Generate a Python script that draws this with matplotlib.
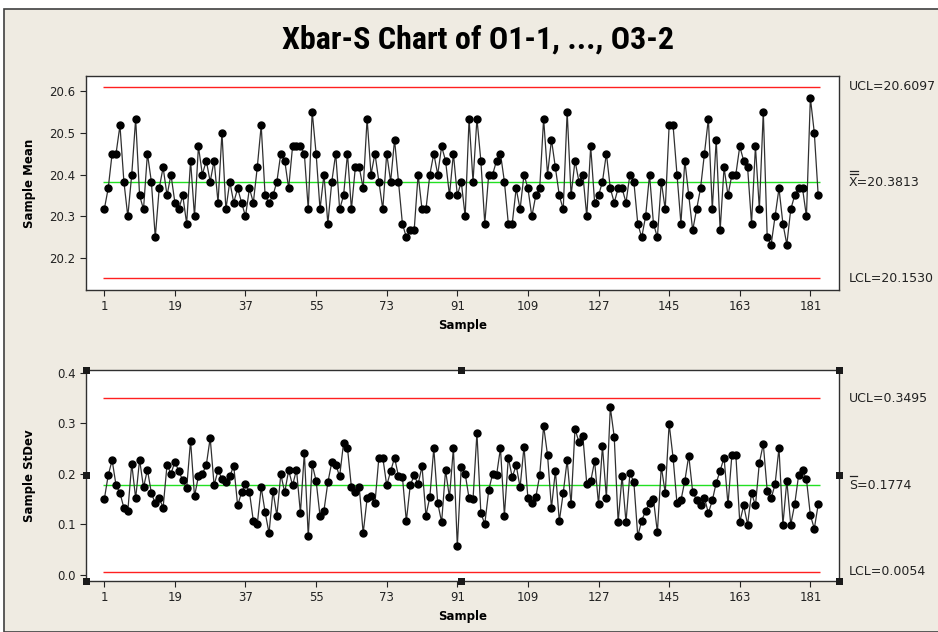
import matplotlib
matplotlib.use("Agg")
import matplotlib.pyplot as plt
from matplotlib.patches import Rectangle
from matplotlib.lines import Line2D
import numpy as np

plt.rcParams['font.family'] = ['DejaVu Sans']

title = "Xbar-S Chart of O1-1, ..., O3-2"
xtick_vals = [1, 19, 37, 55, 73, 91, 109, 127, 145, 163, 181]
mean_ticks = [20.2, 20.3, 20.4, 20.5, 20.6]
sd_ticks = [0.0, 0.1, 0.2, 0.3, 0.4]

xbar_ucl, xbar_cl, xbar_lcl = 20.6097, 20.3813, 20.1530
s_ucl, s_cl, s_lcl = 0.3495, 0.1774, 0.0054

xbar = [20.317, 20.367, 20.45, 20.45, 20.517, 20.383, 20.30, 20.40, 20.533, 20.35,
        20.317, 20.45, 20.383, 20.25, 20.367, 20.417, 20.35, 20.40, 20.333, 20.317,
        20.35, 20.283, 20.433, 20.30, 20.467, 20.40, 20.433, 20.383, 20.433, 20.333,
        20.50, 20.317, 20.383, 20.333, 20.367, 20.333, 20.30, 20.367, 20.333, 20.417,
        20.517, 20.35, 20.333, 20.35, 20.383, 20.45, 20.433, 20.367, 20.467, 20.467,
        20.467, 20.45, 20.317, 20.55, 20.45, 20.317, 20.40, 20.283, 20.383, 20.45,
        20.317, 20.35, 20.45, 20.317, 20.417, 20.417, 20.367, 20.533, 20.40, 20.45,
        20.383, 20.317, 20.45, 20.383, 20.483, 20.383, 20.283, 20.25, 20.267, 20.267,
        20.40, 20.317, 20.317, 20.40, 20.45, 20.40, 20.467, 20.433, 20.35, 20.45,
        20.35, 20.383, 20.30, 20.533, 20.383, 20.533, 20.433, 20.283, 20.40, 20.40,
        20.433, 20.45, 20.383, 20.283, 20.283, 20.367, 20.317, 20.40, 20.367, 20.30,
        20.35, 20.367, 20.533, 20.40, 20.483, 20.417, 20.35, 20.317, 20.55, 20.35,
        20.433, 20.383, 20.40, 20.30, 20.467, 20.333, 20.35, 20.383, 20.45, 20.367,
        20.333, 20.367, 20.367, 20.333, 20.40, 20.383, 20.283, 20.25, 20.30, 20.40,
        20.283, 20.25, 20.383, 20.317, 20.517, 20.517, 20.40, 20.283, 20.433, 20.35,
        20.267, 20.317, 20.367, 20.45, 20.533, 20.317, 20.483, 20.267, 20.417, 20.35,
        20.40, 20.40, 20.467, 20.433, 20.417, 20.283, 20.467, 20.317, 20.55, 20.25,
        20.233, 20.30, 20.367, 20.283, 20.233, 20.317, 20.35, 20.367, 20.367, 20.30,
        20.583, 20.50, 20.35]

sdev = [0.149, 0.197, 0.227, 0.177, 0.162, 0.132, 0.126, 0.220, 0.151, 0.228,
        0.173, 0.208, 0.162, 0.141, 0.151, 0.133, 0.218, 0.200, 0.224, 0.205,
        0.187, 0.172, 0.266, 0.155, 0.195, 0.200, 0.217, 0.271, 0.177, 0.207,
        0.190, 0.184, 0.195, 0.216, 0.137, 0.163, 0.179, 0.164, 0.106, 0.100,
        0.173, 0.124, 0.082, 0.166, 0.117, 0.199, 0.163, 0.207, 0.177, 0.208,
        0.122, 0.242, 0.076, 0.219, 0.186, 0.116, 0.127, 0.183, 0.223, 0.218,
        0.195, 0.261, 0.251, 0.173, 0.163, 0.173, 0.082, 0.151, 0.155, 0.141,
        0.232, 0.232, 0.177, 0.205, 0.232, 0.195, 0.194, 0.106, 0.177, 0.197,
        0.179, 0.215, 0.117, 0.154, 0.251, 0.142, 0.104, 0.207, 0.153, 0.251,
        0.056, 0.214, 0.200, 0.151, 0.149, 0.281, 0.122, 0.100, 0.167, 0.200,
        0.197, 0.251, 0.117, 0.232, 0.193, 0.217, 0.173, 0.254, 0.151, 0.142,
        0.153, 0.197, 0.295, 0.237, 0.132, 0.206, 0.106, 0.162, 0.227, 0.139,
        0.289, 0.263, 0.275, 0.179, 0.185, 0.225, 0.139, 0.255, 0.152, 0.332,
        0.273, 0.104, 0.196, 0.104, 0.201, 0.184, 0.076, 0.107, 0.126, 0.142,
        0.149, 0.084, 0.214, 0.162, 0.299, 0.232, 0.141, 0.147, 0.186, 0.236,
        0.164, 0.148, 0.137, 0.152, 0.122, 0.147, 0.182, 0.206, 0.232, 0.139,
        0.238, 0.238, 0.104, 0.137, 0.099, 0.162, 0.137, 0.222, 0.259, 0.166,
        0.151, 0.179, 0.251, 0.099, 0.186, 0.099, 0.139, 0.197, 0.207, 0.189,
        0.118, 0.091, 0.139]

samples = np.arange(1, len(xbar) + 1)

W, H = 938, 632
fig = plt.figure(figsize=(W / 100, H / 100), dpi=100, facecolor='white')
bg = '#EFEBE2'
fig.patches.append(Rectangle((4 / W, 0), 1.0, 1 - 9 / H, transform=fig.transFigure,
                             facecolor=bg, edgecolor='#404040', linewidth=1.2, zorder=-10))

def px(x0, y0, x1, y1):
    return [x0 / W, 1 - y1 / H, (x1 - x0) / W, (y1 - y0) / H]

ax1 = fig.add_axes(px(86, 76, 839, 290))
ax2 = fig.add_axes(px(86, 370, 839, 581))

red = '#FF2020'
green = '#22E022'
lc = '#303030'

def draw(ax, vals, ucl, cl, lcl, ylim, yticks, ylabel, fmt):
    ax.set_facecolor('white')
    x0, x1 = samples[0] - 0.4, samples[-1] + 0.4
    ax.hlines([ucl, lcl], x0, x1, color=red, lw=1.0, zorder=1)
    ax.hlines([cl], x0, x1, color=green, lw=1.0, zorder=1)
    ax.plot(samples, vals, color=lc, lw=0.9, marker='o', markersize=5,
            markerfacecolor='black', markeredgecolor='black', zorder=3)
    ax.set_xlim(-3.66, 188.3)
    ax.set_ylim(*ylim)
    ax.set_xticks(xtick_vals)
    ax.set_xticklabels([str(v) for v in xtick_vals])
    ax.set_yticks(yticks)
    ax.set_yticklabels([fmt.format(v) for v in yticks])
    ax.tick_params(direction='out', length=4, width=0.8, labelsize=8.5, colors='#222222')
    for s in ax.spines.values():
        s.set_color('#303030')
        s.set_linewidth(1.0)
    ax.set_xlabel('Sample', fontsize=8.5, fontweight='bold', labelpad=4)
    ax.set_ylabel(ylabel, fontsize=8.5, fontweight='bold')

draw(ax1, xbar, xbar_ucl, xbar_cl, xbar_lcl, (20.1245, 20.635), mean_ticks, 'Sample Mean', '{:.1f}')
draw(ax2, sdev, s_ucl, s_cl, s_lcl, (-0.0129, 0.406), sd_ticks, 'Sample StDev', '{:.1f}')
ax1.yaxis.set_label_coords(-0.066, 0.5)
ax2.yaxis.set_label_coords(-0.066, 0.5)

lx = 849 / W
def rlabel(ax, y, txt):
    tr = matplotlib.transforms.blended_transform_factory(fig.transFigure, ax.transData)
    ax.text(lx, y, txt, transform=tr, fontsize=9, va='center', ha='left', color='#222222')

rlabel(ax1, xbar_ucl, 'UCL=20.6097')
rlabel(ax1, xbar_cl, 'X=20.3813')
rlabel(ax1, xbar_lcl, 'LCL=20.1530')
rlabel(ax2, s_ucl, 'UCL=0.3495')
rlabel(ax2, s_cl, 'S=0.1774')
rlabel(ax2, s_lcl, 'LCL=0.0054')

# bars over X (double) and S (single)
def hbar(xa, xb, y):
    fig.add_artist(Line2D([xa / W, xb / W], [1 - y / H, 1 - y / H],
                          transform=fig.transFigure, color='#222222', lw=0.9))
hbar(849.5, 857.5, 170.5)
hbar(849.5, 857.5, 173.5)
hbar(849.5, 856.5, 475.5)

fig.text(478 / W, 1 - 40 / H, title, fontsize=23, fontweight='bold',
         fontstretch='condensed',
         family=['Roboto Condensed', 'DejaVu Sans'], ha='center', va='center')

# selection handles on lower chart
hx = [86, 461, 839]
hy = [370, 475, 581]
for x in hx:
    for y in hy:
        if x == 461 and y == 475:
            continue
        fig.patches.append(Rectangle(((x - 3.5) / W, 1 - (y + 3.5) / H), 7 / W, 7 / H,
                                     transform=fig.transFigure, facecolor='#1a1a1a',
                                     edgecolor='none', zorder=20))

fig.savefig('out.png', dpi=100, facecolor=fig.get_facecolor())
